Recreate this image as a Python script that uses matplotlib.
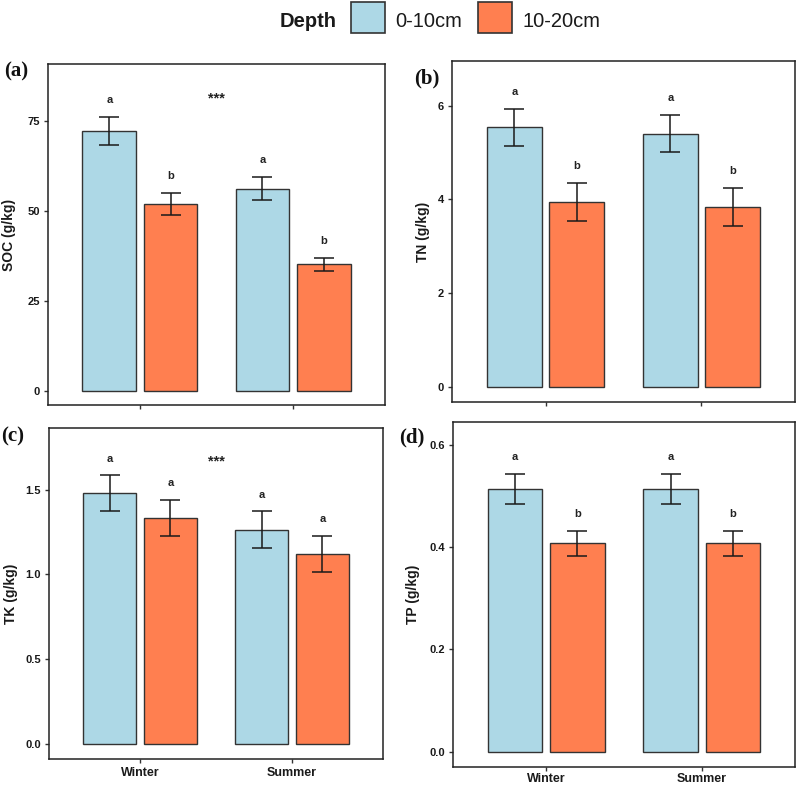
import matplotlib
matplotlib.use("Agg")
import matplotlib.pyplot as plt
import numpy as np
from matplotlib.patches import Rectangle

plt.rcParams['font.family'] = ['Liberation Sans', 'DejaVu Sans']

seasons = ['Winter', 'Summer']
depths = ['0-10cm', '10-20cm']
colors = ['#ADD8E6', '#FF7F50']

soc_top = [72.3, 56.2]
soc_bot = [51.9, 35.2]
soc_se_top = [3.9, 3.3]
soc_se_bot = [3.0, 1.75]
soc_let_top = ['a', 'a']
soc_let_bot = ['b', 'b']

tn_top = [5.54, 5.41]
tn_bot = [3.94, 3.84]
tn_se_top = [0.39, 0.39]
tn_se_bot = [0.41, 0.41]
tn_let_top = ['a', 'a']
tn_let_bot = ['b', 'b']

tk_top = [1.478, 1.264]
tk_bot = [1.334, 1.122]
tk_se_top = [0.107, 0.107]
tk_se_bot = [0.105, 0.105]
tk_let_top = ['a', 'a']
tk_let_bot = ['a', 'a']

tp_top = [0.513, 0.513]
tp_bot = [0.407, 0.407]
tp_se_top = [0.029, 0.029]
tp_se_bot = [0.0245, 0.0245]
tp_let_top = ['a', 'a']
tp_let_bot = ['b', 'b']

W, H = 797, 785
fig = plt.figure(figsize=(W / 100, H / 100), dpi=100)

def px_axes(l, r, t, b):
    return fig.add_axes([l / W, (H - b) / H, (r - l) / W, (b - t) / H])

panels = [
    dict(box=(48, 385, 64, 405), ylim=(-3.9, 90.8), ticks=[0, 25, 50, 75], fmt='{:.0f}',
         label='SOC (g/kg)', tag='(a)', tagxy=(16, 71), means=(soc_top, soc_bot),
         ses=(soc_se_top, soc_se_bot), lets=(soc_let_top, soc_let_bot), star='***',
         xt=False, lpad=8, xpad=3),
    dict(box=(452, 795, 61, 402), ylim=(-0.33, 6.96), ticks=[0, 2, 4, 6], fmt='{:.0f}',
         label='TN (g/kg)', tag='(b)', tagxy=(427, 78), means=(tn_top, tn_bot),
         ses=(tn_se_top, tn_se_bot), lets=(tn_let_top, tn_let_bot), star=None,
         xt=False, lpad=5, xpad=3),
    dict(box=(49, 383, 428, 759), ylim=(-0.088, 1.863), ticks=[0, 0.5, 1.0, 1.5], fmt='{:.1f}',
         label='TK (g/kg)', tag='(c)', tagxy=(13, 436), means=(tk_top, tk_bot),
         ses=(tk_se_top, tk_se_bot), lets=(tk_let_top, tk_let_bot), star='***',
         xt=True, lpad=5, xpad=3),
    dict(box=(453, 795, 422, 767), ylim=(-0.030, 0.644), ticks=[0, 0.2, 0.4, 0.6], fmt='{:.1f}',
         label='TP (g/kg)', tag='(d)', tagxy=(412, 437), means=(tp_top, tp_bot),
         ses=(tp_se_top, tp_se_bot), lets=(tp_let_top, tp_let_bot), star=None,
         xt=True, lpad=6.5, xpad=1),
]

x = np.arange(len(seasons))
offsets = [-0.2, 0.2]
bw = 0.35
edge = '#333333'

for p in panels:
    ax = px_axes(*p['box'])
    y0, y1 = p['ylim']
    rng = y1 - y0
    for i in range(2):
        xs = x + offsets[i]
        ax.bar(xs, p['means'][i], width=bw, color=colors[i], edgecolor=edge, linewidth=1.0, zorder=2)
        ax.errorbar(xs, p['means'][i], yerr=p['ses'][i], fmt='none', ecolor='#1a1a1a',
                    elinewidth=1.1, capsize=7, capthick=1.1, zorder=3)
        for xi, m, s, l in zip(xs, p['means'][i], p['ses'][i], p['lets'][i]):
            ax.text(xi, m + s + 0.05 * rng, l, ha='center', va='center', fontsize=8,
                    fontweight='bold', color='#222222')
    if p['star']:
        ax.text(0.5, 0.90, p['star'], transform=ax.transAxes, ha='center', va='center',
                fontsize=10.5, fontweight='bold', color='#222222')
    ax.set_xlim(-0.6, 1.6)
    ax.set_ylim(y0, y1)
    ax.set_yticks(p['ticks'])
    ax.set_yticklabels([p['fmt'].format(t) for t in p['ticks']])
    ax.set_xticks(x)
    if p['xt']:
        ax.set_xticklabels(seasons, fontsize=9, fontweight='bold')
    else:
        ax.set_xticklabels([])
    for lab in ax.get_yticklabels():
        lab.set_fontweight('bold')
    ax.tick_params(axis='y', labelsize=8, length=3, width=1, color=edge, pad=3, labelcolor='#1a1a1a')
    ax.tick_params(axis='x', length=3, width=1, color=edge, pad=p['xpad'], labelcolor='#1a1a1a')
    for s in ax.spines.values():
        s.set_linewidth(1.1)
        s.set_color('#222222')
    ax.set_ylabel(p['label'], fontsize=10, fontweight='bold', labelpad=p['lpad'], color='#1a1a1a')
    fig.text(p['tagxy'][0] / W, 1 - p['tagxy'][1] / H, p['tag'], fontsize=15, fontweight='bold',
             family=['Liberation Serif'], ha='center', va='center', color='#111111')

# legend
fig.text(280 / W, 1 - 27 / H, 'Depth', fontsize=14.5, fontweight='bold', ha='left', va='baseline',
         color='#1a1a1a')
leg_boxes = [(351, 385), (478, 512)]
leg_text_x = [395, 523]
for i in range(2):
    l, r = leg_boxes[i]
    fig.add_artist(Rectangle((l / W, 1 - 33 / H), (r - l) / W, 31 / H, transform=fig.transFigure,
                             facecolor=colors[i], edgecolor=edge, linewidth=1.2))
    fig.text(leg_text_x[i] / W, 1 - 27 / H, depths[i], fontsize=14.5, ha='left', va='baseline',
             color='#1a1a1a')

fig.savefig('out.png', dpi=100)
